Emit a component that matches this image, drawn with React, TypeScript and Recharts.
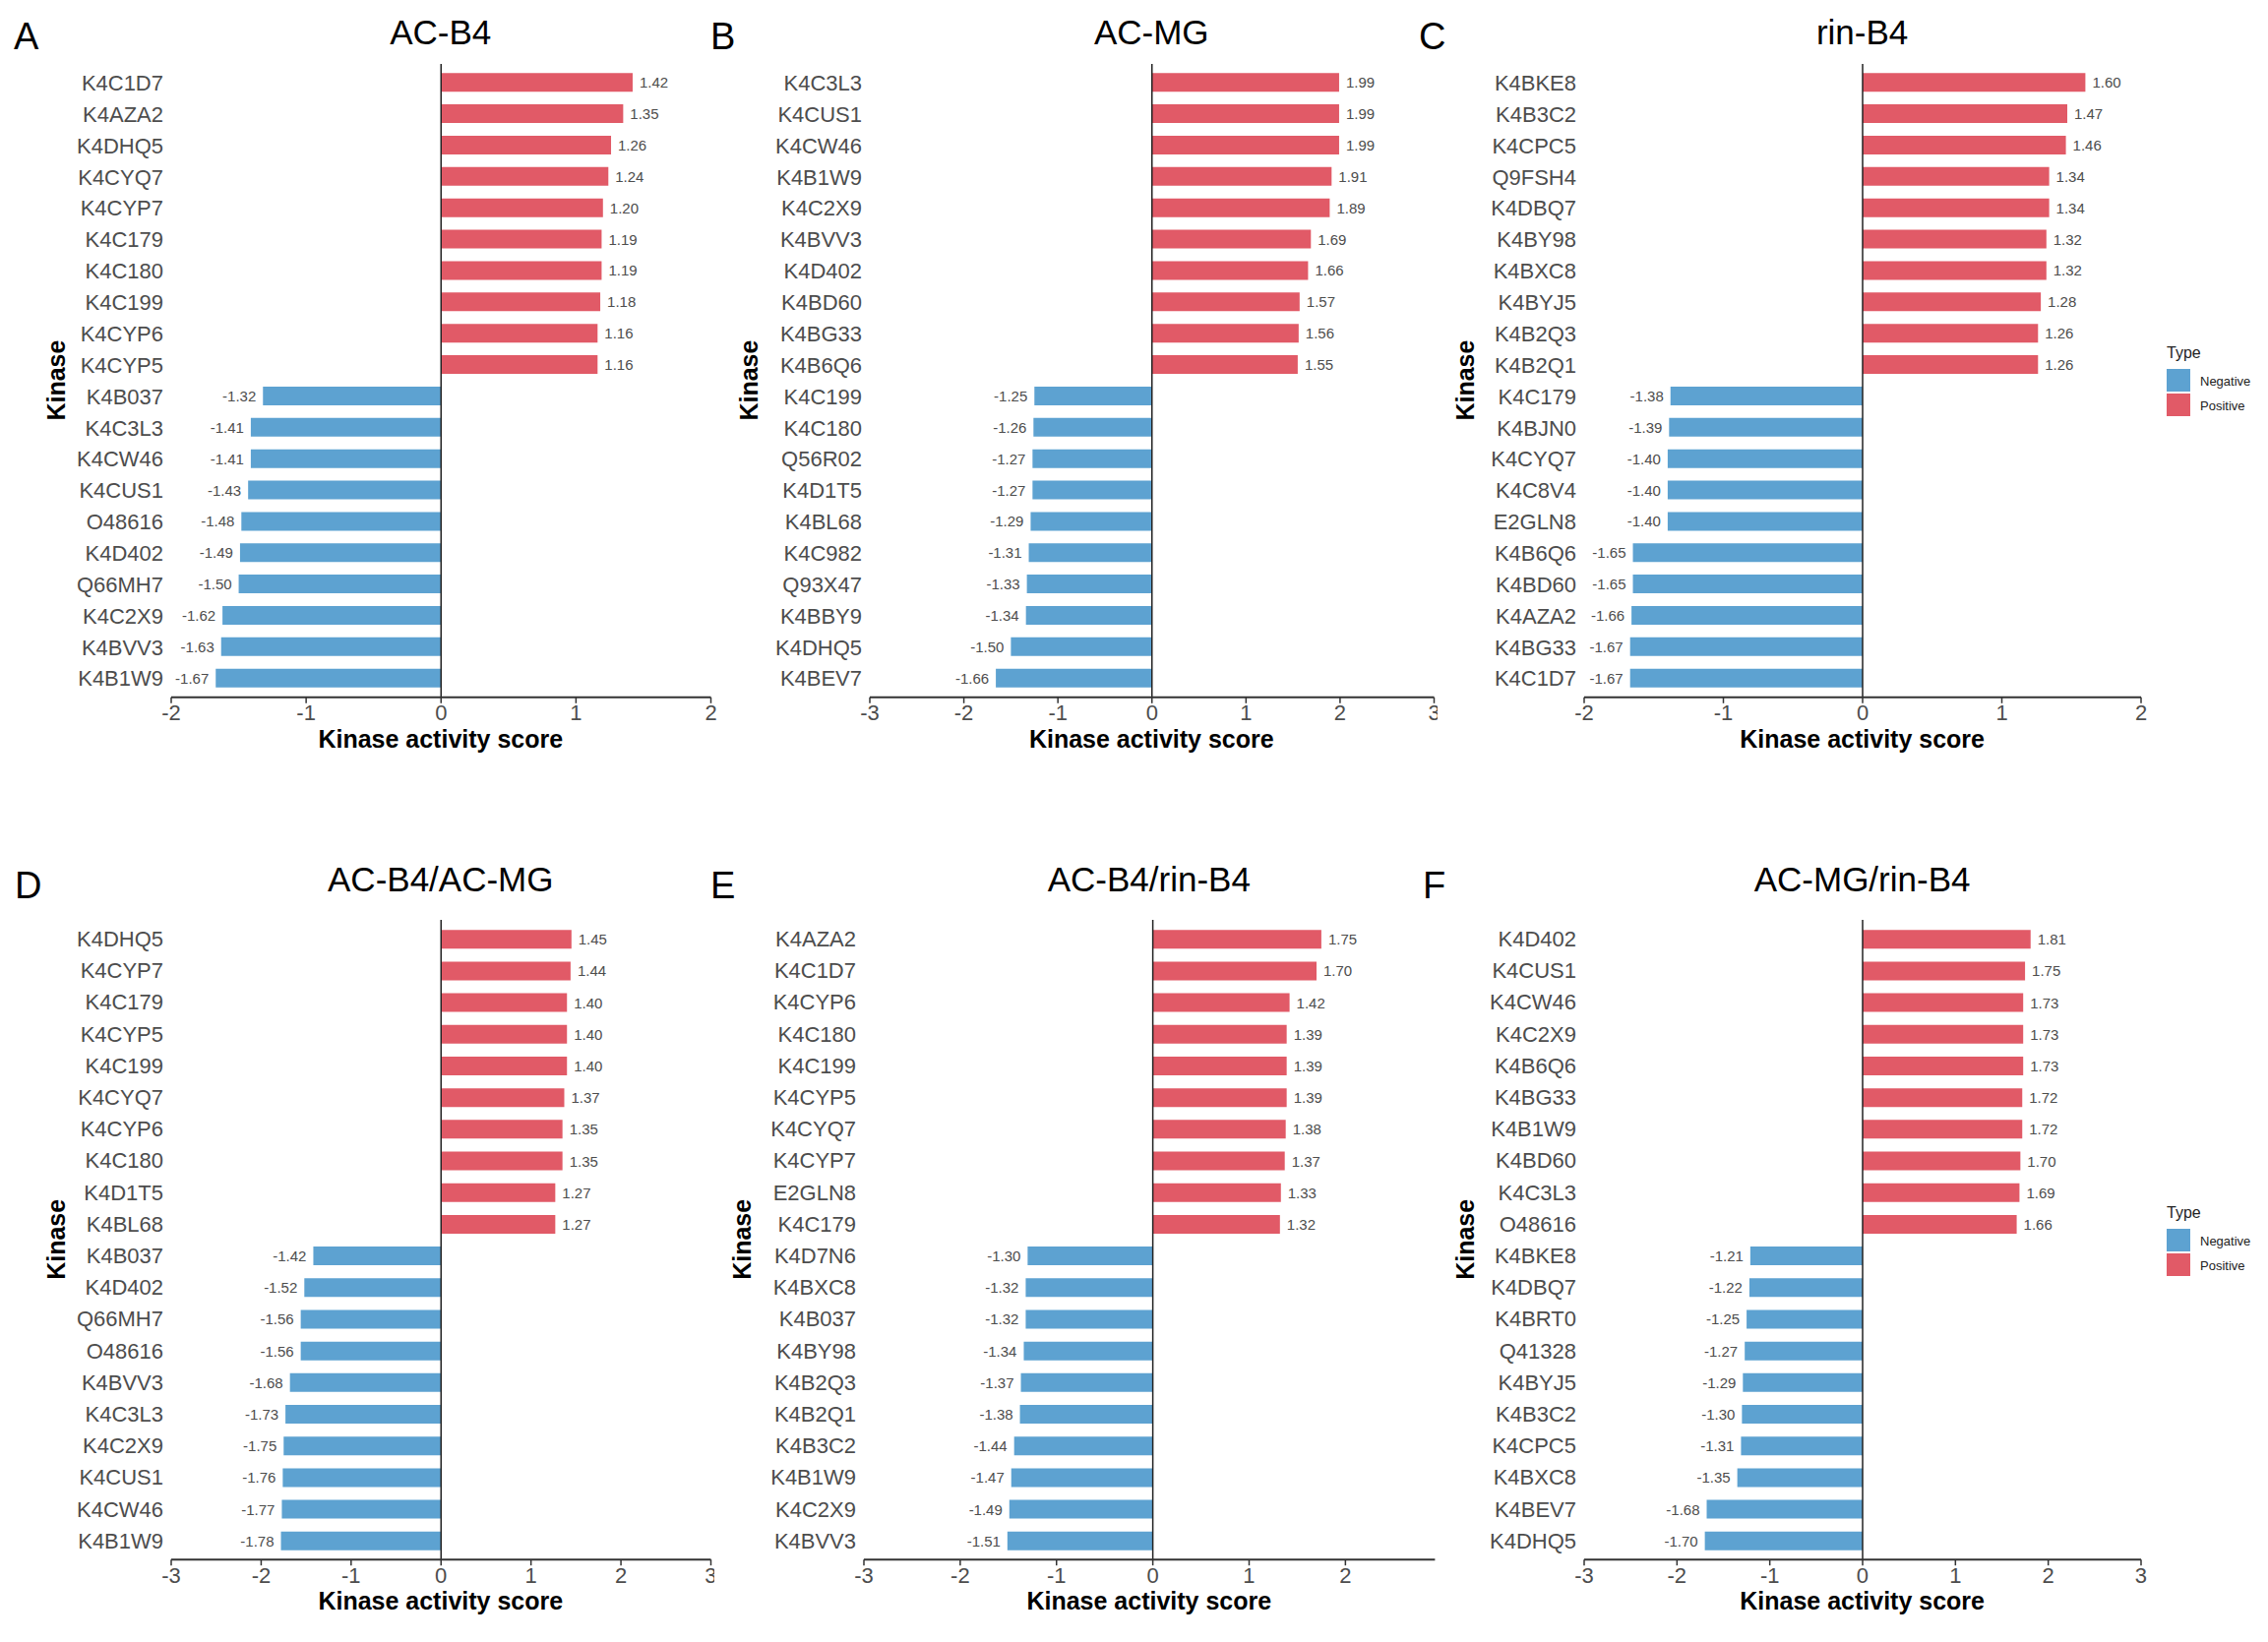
import React from 'react';
import { BarChart, Bar, XAxis, YAxis, Cell, LabelList, ReferenceLine } from 'recharts';

// Panel A: AC-B4
const acB4Kinases = ['K4C1D7', 'K4AZA2', 'K4DHQ5', 'K4CYQ7', 'K4CYP7', 'K4C179', 'K4C180', 'K4C199', 'K4CYP6', 'K4CYP5',
  'K4B037', 'K4C3L3', 'K4CW46', 'K4CUS1', 'O48616', 'K4D402', 'Q66MH7', 'K4C2X9', 'K4BVV3', 'K4B1W9'];
const acB4Scores = [1.42, 1.35, 1.26, 1.24, 1.2, 1.19, 1.19, 1.18, 1.16, 1.16,
  -1.32, -1.41, -1.41, -1.43, -1.48, -1.49, -1.5, -1.62, -1.63, -1.67];

// Panel B: AC-MG
const acMgKinases = ['K4C3L3', 'K4CUS1', 'K4CW46', 'K4B1W9', 'K4C2X9', 'K4BVV3', 'K4D402', 'K4BD60', 'K4BG33', 'K4B6Q6',
  'K4C199', 'K4C180', 'Q56R02', 'K4D1T5', 'K4BL68', 'K4C982', 'Q93X47', 'K4BBY9', 'K4DHQ5', 'K4BEV7'];
const acMgScores = [1.99, 1.99, 1.99, 1.91, 1.89, 1.69, 1.66, 1.57, 1.56, 1.55,
  -1.25, -1.26, -1.27, -1.27, -1.29, -1.31, -1.33, -1.34, -1.5, -1.66];

// Panel C: rin-B4
const rinB4Kinases = ['K4BKE8', 'K4B3C2', 'K4CPC5', 'Q9FSH4', 'K4DBQ7', 'K4BY98', 'K4BXC8', 'K4BYJ5', 'K4B2Q3', 'K4B2Q1',
  'K4C179', 'K4BJN0', 'K4CYQ7', 'K4C8V4', 'E2GLN8', 'K4B6Q6', 'K4BD60', 'K4AZA2', 'K4BG33', 'K4C1D7'];
const rinB4Scores = [1.6, 1.47, 1.46, 1.34, 1.34, 1.32, 1.32, 1.28, 1.26, 1.26,
  -1.38, -1.39, -1.4, -1.4, -1.4, -1.65, -1.65, -1.66, -1.67, -1.67];

// Panel D: AC-B4/AC-MG
const acB4AcMgKinases = ['K4DHQ5', 'K4CYP7', 'K4C179', 'K4CYP5', 'K4C199', 'K4CYQ7', 'K4CYP6', 'K4C180', 'K4D1T5', 'K4BL68',
  'K4B037', 'K4D402', 'Q66MH7', 'O48616', 'K4BVV3', 'K4C3L3', 'K4C2X9', 'K4CUS1', 'K4CW46', 'K4B1W9'];
const acB4AcMgScores = [1.45, 1.44, 1.4, 1.4, 1.4, 1.37, 1.35, 1.35, 1.27, 1.27,
  -1.42, -1.52, -1.56, -1.56, -1.68, -1.73, -1.75, -1.76, -1.77, -1.78];

// Panel E: AC-B4/rin-B4
const acB4RinB4Kinases = ['K4AZA2', 'K4C1D7', 'K4CYP6', 'K4C180', 'K4C199', 'K4CYP5', 'K4CYQ7', 'K4CYP7', 'E2GLN8', 'K4C179',
  'K4D7N6', 'K4BXC8', 'K4B037', 'K4BY98', 'K4B2Q3', 'K4B2Q1', 'K4B3C2', 'K4B1W9', 'K4C2X9', 'K4BVV3'];
const acB4RinB4Scores = [1.75, 1.7, 1.42, 1.39, 1.39, 1.39, 1.38, 1.37, 1.33, 1.32,
  -1.3, -1.32, -1.32, -1.34, -1.37, -1.38, -1.44, -1.47, -1.49, -1.51];

// Panel F: AC-MG/rin-B4
const acMgRinB4Kinases = ['K4D402', 'K4CUS1', 'K4CW46', 'K4C2X9', 'K4B6Q6', 'K4BG33', 'K4B1W9', 'K4BD60', 'K4C3L3', 'O48616',
  'K4BKE8', 'K4DBQ7', 'K4BRT0', 'Q41328', 'K4BYJ5', 'K4B3C2', 'K4CPC5', 'K4BXC8', 'K4BEV7', 'K4DHQ5'];
const acMgRinB4Scores = [1.81, 1.75, 1.73, 1.73, 1.73, 1.72, 1.72, 1.7, 1.69, 1.66,
  -1.21, -1.22, -1.25, -1.27, -1.29, -1.3, -1.31, -1.35, -1.68, -1.7];

const ticks2 = [-2, -1, 0, 1, 2];
const ticks3 = [-3, -2, -1, 0, 1, 2, 3];
const ticks3cut = [-3, -2, -1, 0, 1, 2];
const legendTypes = ['Negative', 'Positive'];

const POS = '#E15A67';
const NEG = '#5DA2D1';
const TEXT = '#4d4d4d';
const FONT = '"Liberation Sans", Arial, Helvetica, sans-serif';

const ROW1 = { plotTop: 64.7, plotBottom: 708.5, titleY: 45, letterY: 50, xTitleY: 760, legendTop: 352 };
const ROW2 = { plotTop: 934.7, plotBottom: 1584.9, titleY: 906, letterY: 913, xTitleY: 1636, legendTop: 1226 };

const panels = [
  { letter: 'A', title: 'AC-B4', kinases: acB4Kinases, scores: acB4Scores, domain: [-2, 2], ticks: ticks2,
    plotLeft: 173.5, plotRight: 722, row: ROW1, letterX: 14, kinaseX: 57 },
  { letter: 'B', title: 'AC-MG', kinases: acMgKinases, scores: acMgScores, domain: [-3, 3], ticks: ticks3,
    plotLeft: 883.5, plotRight: 1457, clipRight: 1461, row: ROW1, letterX: 722, kinaseX: 761 },
  { letter: 'C', title: 'rin-B4', kinases: rinB4Kinases, scores: rinB4Scores, domain: [-2, 2], ticks: ticks2,
    plotLeft: 1609.6, plotRight: 2175.6, row: ROW1, letterX: 1442, kinaseX: 1489, legend: true },
  { letter: 'D', title: 'AC-B4/AC-MG', kinases: acB4AcMgKinases, scores: acB4AcMgScores, domain: [-3, 3], ticks: ticks3,
    plotLeft: 173.5, plotRight: 722, clipRight: 726, row: ROW2, letterX: 15, kinaseX: 57 },
  { letter: 'E', title: 'AC-B4/rin-B4', kinases: acB4RinB4Kinases, scores: acB4RinB4Scores, domain: [-3, 2.93], ticks: ticks3cut,
    plotLeft: 877.6, plotRight: 1458, row: ROW2, letterX: 722, kinaseX: 754 },
  { letter: 'F', title: 'AC-MG/rin-B4', kinases: acMgRinB4Kinases, scores: acMgRinB4Scores, domain: [-3, 3], ticks: ticks3,
    plotLeft: 1609.6, plotRight: 2175.6, row: ROW2, letterX: 1446, kinaseX: 1489, legend: true },
];

function renderValueLabel(props: any) {
  const { x, y, width, height, value } = props;
  const x1 = Number(x);
  const x2 = Number(x) + Number(width);
  const pos = Number(value) >= 0;
  const tx = pos ? Math.max(x1, x2) + 7 : Math.min(x1, x2) - 7;
  return (
    <text x={tx} y={Number(y) + Number(height) / 2} textAnchor={pos ? 'start' : 'end'}
      dominantBaseline="central" fontSize={15} fill={TEXT}>
      {Number(value).toFixed(2)}
    </text>
  );
}

function Panel(p: any) {
  const data = p.kinases.map((k: string, i: number) => ({ kinase: k, score: p.scores[i] }));
  const yW = 170;
  const left = p.plotLeft - yW;
  const top = p.row.plotTop - 10;
  const width = p.plotRight - left + 30;
  const height = p.row.plotBottom - top + 40;
  const visible = p.clipRight ? p.clipRight - left : width;
  return (
    <div style={{ position: 'absolute', left, top, width: visible, height, overflow: 'hidden' }}>
      <BarChart width={width} height={height} data={data} layout="vertical"
        margin={{ top: 10, right: 30, bottom: 0, left: 0 }}>
        <XAxis type="number" dataKey="score" domain={p.domain} ticks={p.ticks} interval={0} allowDataOverflow
          height={40} axisLine={{ stroke: '#333', strokeWidth: 2 }} tickLine={{ stroke: '#333', strokeWidth: 1.5 }}
          tickSize={6} tickMargin={2} tick={{ fontSize: 22, fill: TEXT }} />
        <YAxis type="category" dataKey="kinase" width={yW} axisLine={false} tickLine={false}
          tickSize={0} tickMargin={8} interval={0} padding={{ top: 3.2, bottom: 3.2 }}
          tick={{ fontSize: 22, fill: TEXT }} />
        <Bar dataKey="score" barSize={19} isAnimationActive={false}>
          {data.map((d: any) => (
            <Cell key={d.kinase} fill={d.score >= 0 ? POS : NEG} />
          ))}
          <LabelList dataKey="score" content={renderValueLabel} />
        </Bar>
        <ReferenceLine x={0} stroke="#222" strokeWidth={1.5} />
      </BarChart>
    </div>
  );
}

function Overlay() {
  return (
    <svg width={2305} height={1669} style={{ position: 'absolute', left: 0, top: 0, pointerEvents: 'none' }}>
      {panels.map((p) => {
        const cx = (p.plotLeft + p.plotRight) / 2;
        const cy = (p.row.plotTop + p.row.plotBottom) / 2;
        return (
          <g key={p.letter}>
            <text x={p.letterX} y={p.row.letterY} fontSize={38} fill="#000">{p.letter}</text>
            <text x={cx} y={p.row.titleY} fontSize={35} fill="#000" textAnchor="middle">{p.title}</text>
            <text x={cx} y={p.row.xTitleY} fontSize={25} fontWeight="bold" fill="#000" textAnchor="middle">
              Kinase activity score
            </text>
            <text x={p.kinaseX} y={cy} fontSize={25} fontWeight="bold" fill="#000" textAnchor="middle"
              dominantBaseline="central" transform={`rotate(-90, ${p.kinaseX}, ${cy})`}>
              Kinase
            </text>
            {p.legend && (
              <g>
                <text x={2202} y={p.row.legendTop + 12} fontSize={16} fill="#222">Type</text>
                {legendTypes.map((t, i) => (
                  <g key={t}>
                    <rect x={2202} y={p.row.legendTop + 23 + i * 25} width={24} height={23}
                      fill={t === 'Negative' ? NEG : POS} />
                    <text x={2236} y={p.row.legendTop + 35 + i * 25} fontSize={13} fill="#222"
                      dominantBaseline="central">{t}</text>
                  </g>
                ))}
              </g>
            )}
          </g>
        );
      })}
    </svg>
  );
}

export default function App() {
  return (
    <div style={{ position: 'absolute', left: 0, top: 0, width: 2305, height: 1669, background: '#fff', fontFamily: FONT }}>
      {panels.map((p) => (
        <Panel key={p.letter} {...p} />
      ))}
      <Overlay />
    </div>
  );
}
